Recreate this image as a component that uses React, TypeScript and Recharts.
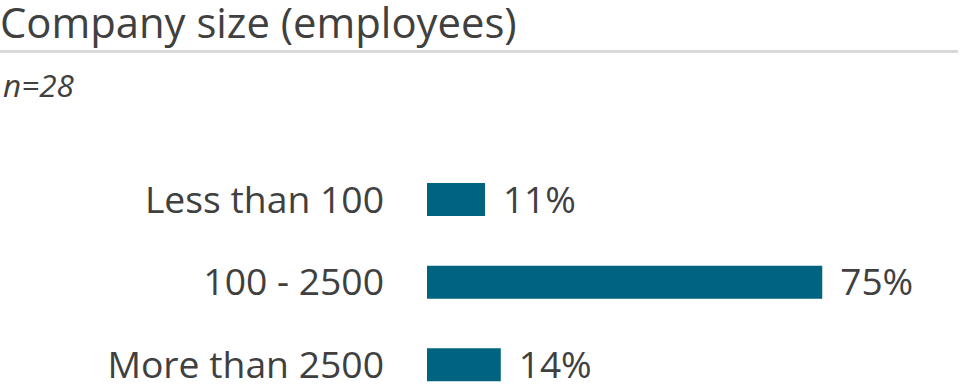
import React from 'react';
import { BarChart, Bar, XAxis, YAxis, LabelList } from 'recharts';

const categories = ['Less than 100', '100 - 2500', 'More than 2500'];
const shares = [11, 75, 14];

const chartData = categories.map((name, i) => ({ name, value: shares[i] }));

const FONT = '"Open Sans", sans-serif';
const TEXT = '#404040';

export default function App() {
  return (
    <div
      style={{
        position: 'absolute',
        left: 0,
        top: 0,
        width: 960,
        height: 391,
        overflow: 'hidden',
        background: '#fff',
        fontFamily: FONT,
      }}
    >
      {/* header: title, rule, sample size */}
      <svg width={960} height={110} style={{ position: 'absolute', left: 0, top: 0 }}>
        <text x={0} y={38} fill={TEXT} fontSize={41.8} fontFamily={FONT}>
          Company size (employees)
        </text>
        <rect x={0} y={50} width={958} height={3} fill="#d9d9d9" />
        <text x={3} y={97} fill={TEXT} fontSize={31.5} fontStyle="italic" fontFamily={FONT}>
          n=28
        </text>
      </svg>
      <div style={{ position: 'absolute', left: 0, top: 158 }}>
        <BarChart
          width={960}
          height={248}
          data={chartData}
          layout="vertical"
          margin={{ top: 0, right: 6, left: 0, bottom: 0 }}
        >
          <XAxis type="number" domain={[0, 100]} hide />
          <YAxis
            type="category"
            dataKey="name"
            width={427}
            axisLine={false}
            tickLine={false}
            tickSize={0}
            tickMargin={43}
            tick={{ fill: TEXT, fontSize: 37.3, fontFamily: FONT }}
          />
          <Bar dataKey="value" fill="#00637f" barSize={33} isAnimationActive={false}>
            <LabelList
              dataKey="value"
              position="right"
              offset={18}
              formatter={(v: number) => `${v}%`}
              style={{ fill: TEXT, fontSize: 37, fontFamily: FONT }}
            />
          </Bar>
        </BarChart>
      </div>
    </div>
  );
}
